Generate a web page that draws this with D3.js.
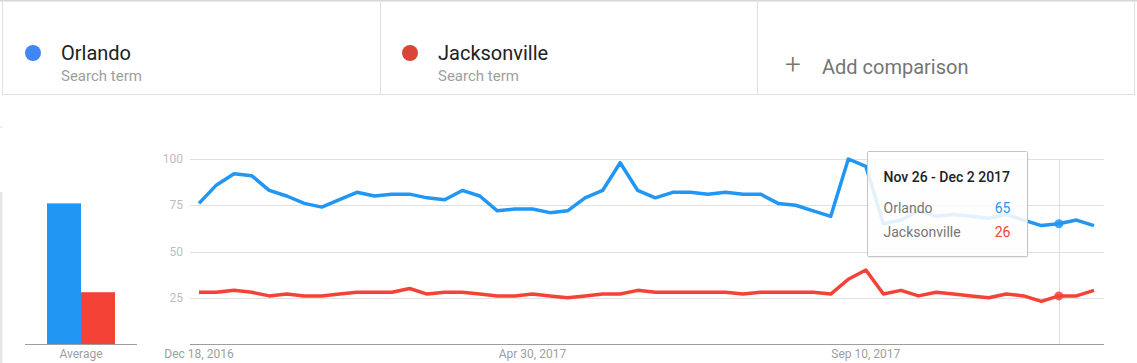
<!DOCTYPE html>
<html>
<head>
<meta charset="utf-8">
<script src="https://cdn.jsdelivr.net/npm/d3@7"></script>
<style>
  body { margin: 0; background: #fff; font-family: Roboto, "Noto Sans", sans-serif; }
  svg { display: block; }
</style>
</head>
<body>
<svg id="chart" width="1137" height="363"></svg>
<script>
// weekly data, Dec 18 2016 .. Dec 10 2017
var startWeek = new Date(2016, 11, 18);
var orlando = [76, 86, 92, 91, 83, 80, 76, 74, 78, 82, 80, 81, 81, 79, 78, 83, 80, 72, 73, 73,
  71, 72, 79, 83, 98, 83, 79, 82, 82, 81, 82, 81, 81, 76, 75, 72, 69, 100, 96, 65,
  67, 72, 69, 70, 69, 68, 70, 67, 64, 65, 67, 64];
var jacksonville = [28, 28, 29, 28, 26, 27, 26, 26, 27, 28, 28, 28, 30, 27, 28, 28, 27, 26, 26, 27,
  26, 25, 26, 27, 27, 29, 28, 28, 28, 28, 28, 27, 28, 28, 28, 28, 27, 35, 40, 27,
  29, 26, 28, 27, 26, 25, 27, 26, 23, 26, 26, 29];
var terms = ["Orlando", "Jacksonville"];
var averages = [76, 28];
var yTicks = [25, 50, 75, 100];
var xTickDates = [new Date(2016, 11, 18), new Date(2017, 3, 30), new Date(2017, 8, 10)];
var hoverIndex = 49;
var hoverLabel = "Nov 26 - Dec 2 2017";

var dotColors = ["#4285f4", "#db4437"];
var lineColors = ["#2196f3", "#f44336"];

var svg = d3.select("#chart");
var dates = orlando.map(function(d, i) { return d3.timeWeek.offset(startWeek, i); });
var series = [orlando, jacksonville];

/* ------- HEADER -------*/
var header = svg.append("g").attr("class", "header");
header.append("rect")
  .attr("x", 2.5).attr("y", 0.5).attr("width", 1132).attr("height", 94)
  .attr("fill", "#fff").attr("stroke", "#e0e0e0");
header.append("line").attr("x1", 0).attr("x2", 1137).attr("y1", 0.5).attr("y2", 0.5)
  .attr("stroke", "#d6d6d6").attr("stroke-width", 2);
[380.5, 757.5].forEach(function(x) {
  header.append("line").attr("x1", x).attr("x2", x).attr("y1", 0).attr("y2", 94)
    .attr("stroke", "#e0e0e0");
});

var termX = [33, 410];
terms.forEach(function(t, i) {
  header.append("circle").attr("cx", termX[i]).attr("cy", 53).attr("r", 8)
    .attr("fill", dotColors[i]);
  header.append("text").attr("x", termX[i] + 28).attr("y", 60)
    .attr("font-size", 20).attr("fill", "#212121").text(t);
  header.append("text").attr("x", termX[i] + 28).attr("y", 81)
    .attr("font-size", 15).attr("fill", "#9e9e9e").text("Search term");
});
header.append("text").attr("x", 785).attr("y", 74)
  .attr("font-size", 28).attr("font-weight", 300).attr("fill", "#757575").text("+");
header.append("text").attr("x", 822).attr("y", 74)
  .attr("font-size", 20).attr("fill", "#757575").text("Add comparison");

// left card edge
svg.append("line").attr("x1", 1).attr("x2", 1).attr("y1", 192).attr("y2", 363)
  .attr("stroke", "#e6e6e6").attr("stroke-width", 3);
svg.append("line").attr("x1", 0).attr("x2", 3).attr("y1", 127).attr("y2", 127)
  .attr("stroke", "#e0e0e0");

/* ------- SCALES -------*/
var y = d3.scaleLinear().domain([0, 100]).range([344, 159]);
var x = d3.scaleTime().domain([dates[0], dates[dates.length - 1]]).range([199, 1094]);

/* ------- AVERAGE BARS -------*/
var xb = d3.scaleBand().domain(terms).range([47, 115]).padding(0);
var bars = svg.append("g").attr("class", "bars");
bars.selectAll("rect").data(averages).enter().append("rect")
  .attr("x", function(d, i) { return xb(terms[i]); })
  .attr("width", xb.bandwidth())
  .attr("y", function(d) { return y(d); })
  .attr("height", function(d) { return y(0) - y(d); })
  .attr("fill", function(d, i) { return lineColors[i]; });
bars.append("line").attr("x1", 25).attr("x2", 137).attr("y1", 344.5).attr("y2", 344.5)
  .attr("stroke", "#9e9e9e");
bars.append("text").attr("x", 81).attr("y", 358).attr("text-anchor", "middle")
  .attr("font-size", 12).attr("fill", "#9e9e9e").text("Average");

/* ------- GRID & AXES -------*/
var grid = svg.append("g").attr("class", "grid");
grid.selectAll("line").data(yTicks).enter().append("line")
  .attr("x1", 190).attr("x2", 1104)
  .attr("y1", function(d) { return Math.round(y(d)) + 0.5; })
  .attr("y2", function(d) { return Math.round(y(d)) + 0.5; })
  .attr("stroke", "#e0e0e0");
grid.selectAll("text").data(yTicks).enter().append("text")
  .attr("x", 183).attr("y", function(d) { return y(d) + 4; })
  .attr("text-anchor", "end").attr("font-size", 12).attr("fill", "#bdbdbd")
  .text(function(d) { return d; });

svg.append("line").attr("x1", 190).attr("x2", 1104).attr("y1", 344.5).attr("y2", 344.5)
  .attr("stroke", "#9e9e9e");

var fmt = d3.timeFormat("%b %-d, %Y");
svg.append("g").selectAll("text").data(xTickDates).enter().append("text")
  .attr("x", function(d) { return x(d); }).attr("y", 358)
  .attr("text-anchor", "middle").attr("font-size", 12).attr("fill", "#9e9e9e")
  .text(function(d) { return fmt(d); });

// hover rule
svg.append("line")
  .attr("x1", Math.round(x(dates[hoverIndex])) + 0.5).attr("x2", Math.round(x(dates[hoverIndex])) + 0.5)
  .attr("y1", 159).attr("y2", 344).attr("stroke", "#e0e0e0");

/* ------- LINES -------*/
var line = d3.line()
  .x(function(d, i) { return x(dates[i]); })
  .y(function(d) { return y(d); });

svg.append("g").selectAll("path").data(series).enter().append("path")
  .attr("d", line)
  .attr("fill", "none")
  .attr("stroke", function(d, i) { return lineColors[i]; })
  .attr("stroke-width", 3.5)
  .attr("stroke-linejoin", "round");

svg.append("g").selectAll("circle").data(series).enter().append("circle")
  .attr("cx", x(dates[hoverIndex]))
  .attr("cy", function(d) { return y(d[hoverIndex]); })
  .attr("r", 4.5)
  .attr("fill", function(d, i) { return lineColors[i]; })
  .attr("opacity", 0.85);

/* ------- TOOLTIP -------*/
var tip = svg.append("g").attr("class", "tooltip").attr("transform", "translate(867.5,151.5)");
tip.append("rect").attr("x", 1).attr("y", 1.5).attr("width", 160).attr("height", 105)
  .attr("fill", "#000").attr("opacity", 0.06);
tip.append("rect").attr("width", 160).attr("height", 105).attr("rx", 1)
  .attr("fill", "#fff").attr("fill-opacity", 0.88).attr("stroke", "#c4c4c4");
tip.append("text").attr("x", 16).attr("y", 30).attr("font-size", 14).attr("font-weight", 500)
  .attr("fill", "#212121").text(hoverLabel);
terms.forEach(function(t, i) {
  tip.append("text").attr("x", 16).attr("y", 61 + i * 24).attr("font-size", 14)
    .attr("fill", "#757575").text(t);
  tip.append("text").attr("x", 143).attr("y", 61 + i * 24).attr("font-size", 14)
    .attr("text-anchor", "end").attr("fill", lineColors[i]).text(series[i][hoverIndex]);
});
</script>
</body>
</html>
